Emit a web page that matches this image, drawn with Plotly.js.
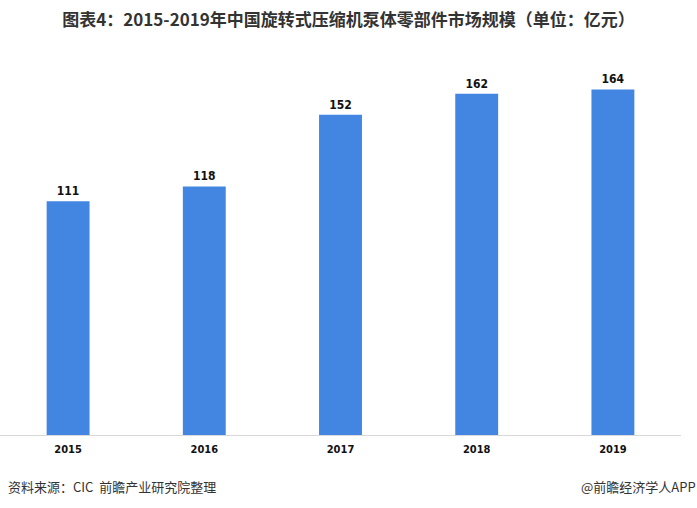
<!DOCTYPE html>
<html>
<head>
<meta charset="utf-8">
<script src="https://cdn.plot.ly/plotly-3.0.1.min.js"></script>
<style>
html,body{margin:0;padding:0;background:#fff;}
#chart{width:697px;height:508px;}
</style>
</head>
<body>
<div id="chart"></div>
<script>
const years = ['2015', '2016', '2017', '2018', '2019'];
const marketSize = [111, 118, 152, 162, 164];
const labels = marketSize.map(v => String(v));

const trace = {
  type: 'bar',
  x: years,
  y: marketSize,
  text: labels,
  textposition: 'outside',
  cliponaxis: false,
  textfont: {family: 'DejaVu Sans Condensed, DejaVu Sans, sans-serif', size: 12, color: '#111', weight: 'bold'},
  marker: {color: '#4286e2'},
  width: 0.315,
  hoverinfo: 'none'
};

const layout = {
  width: 697,
  height: 508,
  margin: {l: 0, r: 16, t: 60, b: 73},
  paper_bgcolor: '#fff',
  plot_bgcolor: '#fff',
  showlegend: false,
  font: {family: 'Noto Sans CJK SC, sans-serif'},
  title: {
    text: '<b>图表4：2015-2019年中国旋转式压缩机泵体零部件市场规模（单位：亿元）</b>',
    x: 0.5, xanchor: 'center', y: 0.96, yanchor: 'middle',
    font: {family: 'Noto Sans CJK SC, sans-serif', size: 17, color: '#333'}
  },
  xaxis: {
    type: 'category',
    showline: true,
    linecolor: '#d9d9d9',
    linewidth: 1,
    ticks: '',
    showgrid: false,
    tickfont: {family: 'DejaVu Sans Condensed, DejaVu Sans, sans-serif', size: 11, color: '#111', weight: 'bold'},
    ticklabelstandoff: 4
  },
  yaxis: {
    range: [0, 178],
    visible: false,
    showgrid: false,
    zeroline: false
  },
  annotations: [
    {
      text: '资料来源：CIC  前瞻产业研究院整理',
      xref: 'paper', yref: 'paper', x: 0, xanchor: 'left',
      y: -0.138, yanchor: 'middle', showarrow: false, xshift: 6,
      font: {family: 'Noto Sans CJK SC, sans-serif', size: 13, color: '#333'}
    },
    {
      text: '@前瞻经济学人APP',
      xref: 'paper', yref: 'paper', x: 1, xanchor: 'right',
      y: -0.138, yanchor: 'middle', showarrow: false, xshift: 17,
      font: {family: 'Noto Sans CJK SC, sans-serif', size: 13, color: '#333'}
    }
  ]
};

Plotly.newPlot('chart', [trace], layout, {staticPlot: true, displayModeBar: false});
</script>
</body>
</html>
